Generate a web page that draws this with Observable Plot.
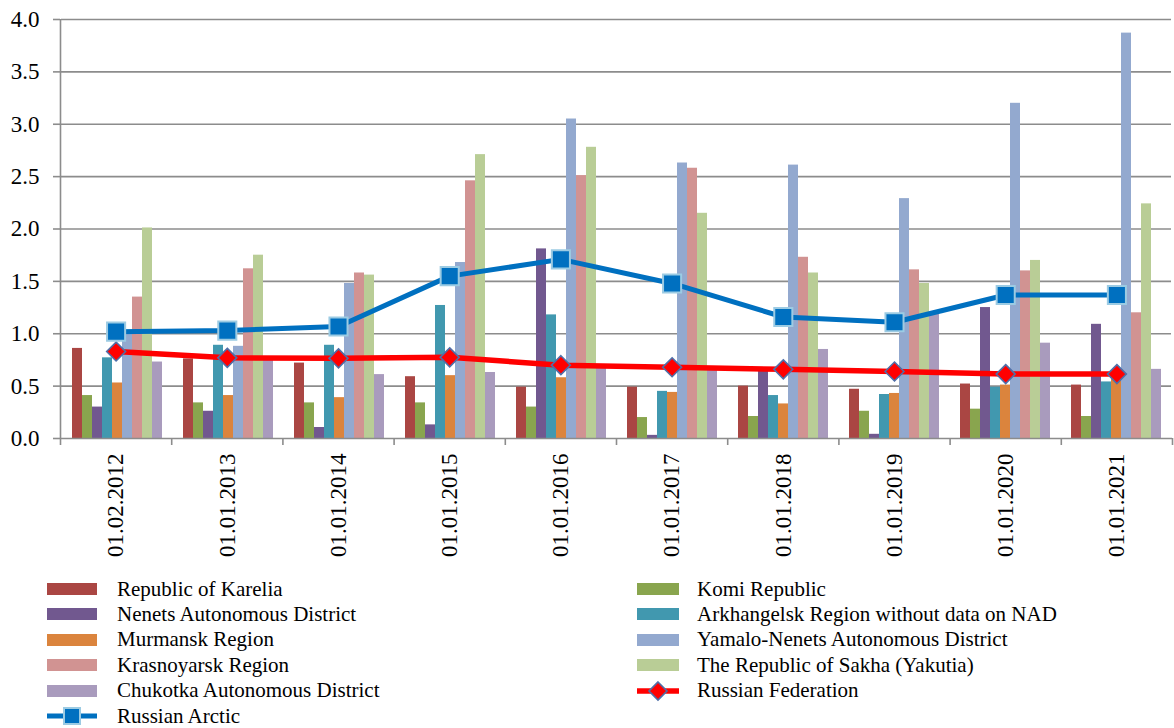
<!DOCTYPE html>
<html>
<head>
<meta charset="utf-8">
<script src="https://cdn.jsdelivr.net/npm/d3@7"></script>
<script src="https://cdn.jsdelivr.net/npm/@observablehq/plot@0.6"></script>
<style>
  html, body { margin: 0; padding: 0; background: #fff; }
  body { width: 1174px; height: 728px; overflow: hidden; font-family: "Liberation Serif", "Times New Roman", Times, "DejaVu Serif", serif; }
  #wrap { position: relative; width: 1174px; height: 570px; }
  #wrap svg { position: absolute; left: 0; top: 0; }
  #legend { position: relative; width: 1174px; height: 158px; }
  .item { position: absolute; height: 25px; display: flex; align-items: center; font-size: 21px; color: #000; white-space: nowrap; font-family: "Liberation Serif", "Times New Roman", Times, "DejaVu Serif", serif; }
  .sw { display: inline-block; height: 12px; }
</style>
</head>
<body>
<div id="wrap"></div>
<div id="legend"></div>
<script>
// ---- data ----
const dates = ["01.02.2012","01.01.2013","01.01.2014","01.01.2015","01.01.2016","01.01.2017","01.01.2018","01.01.2019","01.01.2020","01.01.2021"];
const seriesNames = ["Republic of Karelia","Komi Republic","Nenets Autonomous District","Arkhangelsk Region without data on NAD","Murmansk Region","Yamalo-Nenets Autonomous District","Krasnoyarsk Region","The Republic of Sakha (Yakutia)","Chukotka Autonomous District"];
const seriesColors = ["#AA4643","#89A54E","#71588F","#4198AF","#DB843D","#93A9CF","#D19392","#B9CD96","#A99BBD"];
const karelia     = [0.86,0.76,0.72,0.59,0.49,0.49,0.50,0.47,0.52,0.51];
const komi        = [0.41,0.34,0.34,0.34,0.30,0.20,0.21,0.26,0.28,0.21];
const nenets      = [0.30,0.26,0.105,0.13,1.81,0.03,0.64,0.04,1.25,1.09];
const arkhangelsk = [0.77,0.89,0.89,1.27,1.18,0.45,0.41,0.42,0.49,0.54];
const murmansk    = [0.53,0.41,0.39,0.60,0.58,0.44,0.33,0.43,0.51,0.57];
const yamalo      = [1.00,0.88,1.48,1.68,3.05,2.63,2.61,2.29,3.20,3.87];
const krasnoyarsk = [1.35,1.62,1.58,2.46,2.51,2.58,1.73,1.61,1.60,1.20];
const sakha       = [2.01,1.75,1.56,2.71,2.78,2.15,1.58,1.48,1.70,2.24];
const chukotka    = [0.73,0.77,0.61,0.63,0.67,0.65,0.85,1.20,0.91,0.66];
const russianArctic     = [1.02,1.03,1.07,1.55,1.71,1.48,1.16,1.11,1.37,1.37];
const russianFederation = [0.83,0.77,0.765,0.775,0.70,0.68,0.66,0.64,0.615,0.615];
const yTicks = [0,0.5,1,1.5,2,2.5,3,3.5,4];

// ---- build tables ----
const seriesValues = [karelia, komi, nenets, arkhangelsk, murmansk, yamalo, krasnoyarsk, sakha, chukotka];
const bars = [];
seriesNames.forEach((s, si) => dates.forEach((d, di) => bars.push({date: d, series: s, value: seriesValues[si][di]})));
const arcticRows = dates.map((d, i) => ({idx: i + 0.5, value: russianArctic[i]}));
const rfRows = dates.map((d, i) => ({idx: i + 0.5, value: russianFederation[i]}));

const W = 1174, H = 570;
const M = {marginLeft: 60, marginRight: 2, marginTop: 19, marginBottom: 132};
const FONT = "'Liberation Serif', 'Times New Roman', Times, 'DejaVu Serif', serif";
const GRID = "#8c8c8c";

const barPlot = Plot.plot({
  width: W, height: H, ...M,
  style: {background: "none", overflow: "visible"},
  fx: {domain: dates, padding: 0, axis: null},
  x: {domain: seriesNames, paddingInner: 0, paddingOuter: 0.7, axis: null},
  y: {domain: [0, 4], axis: null},
  color: {domain: seriesNames, range: seriesColors},
  marks: [
    Plot.ruleY(yTicks.filter(t => t > 0), {stroke: GRID, strokeWidth: 1.6}),
    Plot.barY(bars, {fx: "date", x: "series", y: "value", fill: "series"})
  ]
});

const linePlot = Plot.plot({
  width: W, height: H, ...M,
  style: {background: "none", overflow: "visible"},
  x: {domain: [0, dates.length], axis: null},
  y: {domain: [0, 4], axis: null},
  marks: [
    Plot.axisY({ticks: yTicks, tickFormat: d3.format(".1f"), tickSize: 7, tickPadding: 14, stroke: GRID, strokeWidth: 1.6, strokeOpacity: 1, label: null}),
    Plot.axisX({ticks: d3.range(dates.length + 1), tickFormat: () => "", tickSize: 7, stroke: GRID, strokeWidth: 1.6, strokeOpacity: 1, label: null}),
    Plot.axisX({ticks: dates.map((d, i) => i + 0.5), tickFormat: v => dates[Math.floor(v)], tickSize: 0, tickPadding: 15, tickRotate: -90, label: null}),
    Plot.ruleX([0], {stroke: GRID, strokeWidth: 1.6}),
    Plot.ruleY([0], {stroke: GRID, strokeWidth: 1.6}),
    Plot.line(rfRows, {x: "idx", y: "value", stroke: "#FF0000", strokeWidth: 5.5}),
    Plot.dot(rfRows, {x: "idx", y: "value", symbol: "diamond2", r: 8.5, fill: "#FF0000", stroke: "#4F6FA8", strokeWidth: 1.6}),
    Plot.line(arcticRows, {x: "idx", y: "value", stroke: "#0070C0", strokeWidth: 5}),
    Plot.dot(arcticRows, {x: "idx", y: "value", symbol: "square", r: 10.2, fill: "#0070C0", stroke: "#9CCBE3", strokeWidth: 2})
  ]
});

// force serif tick labels at the reference size
d3.select(linePlot).selectAll("text")
  .style("font-family", FONT)
  .style("font-size", "23px")
  .style("fill", "#000");

const wrap = document.getElementById("wrap");
wrap.appendChild(barPlot);
wrap.appendChild(linePlot);

// ---- legend ----
const legend = document.getElementById("legend");
const legendItems = [
  ...seriesNames.map((s, i) => ({name: s, kind: "bar", color: seriesColors[i]})),
  {name: "Russian Federation", kind: "rf"},
  {name: "Russian Arctic", kind: "arctic"}
];
legendItems.forEach((it, i) => {
  const col = i % 2, row = Math.floor(i / 2);
  const div = document.createElement("div");
  div.className = "item";
  const top = 6.5 + row * 25.4;
  div.style.top = top + "px";
  const swLeft = col === 0 ? 47 : 637;
  const swW = col === 0 ? 50 : 42;
  const textLeft = col === 0 ? 117 : 697;
  div.style.left = swLeft + "px";
  let sym;
  if (it.kind === "bar") {
    sym = `<span class="sw" style="width:${swW}px;background:${it.color}"></span>`;
  } else if (it.kind === "rf") {
    sym = `<svg width="${swW}" height="24" style="display:block"><line x1="0" y1="12" x2="${swW}" y2="12" stroke="#FF0000" stroke-width="5.5"/><path d="M${swW/2} 3 L${swW/2+9} 12 L${swW/2} 21 L${swW/2-9} 12 Z" fill="#FF0000" stroke="#4F6FA8" stroke-width="1.6"/></svg>`;
  } else {
    sym = `<svg width="${swW}" height="24" style="display:block"><line x1="0" y1="12" x2="${swW}" y2="12" stroke="#0070C0" stroke-width="5"/><rect x="${swW/2-8}" y="4" width="16" height="16" fill="#0070C0" stroke="#9CCBE3" stroke-width="2"/></svg>`;
  }
  div.innerHTML = sym + `<span style="margin-left:${textLeft - swLeft - swW}px">${it.name}</span>`;
  legend.appendChild(div);
});
</script>
</body>
</html>
